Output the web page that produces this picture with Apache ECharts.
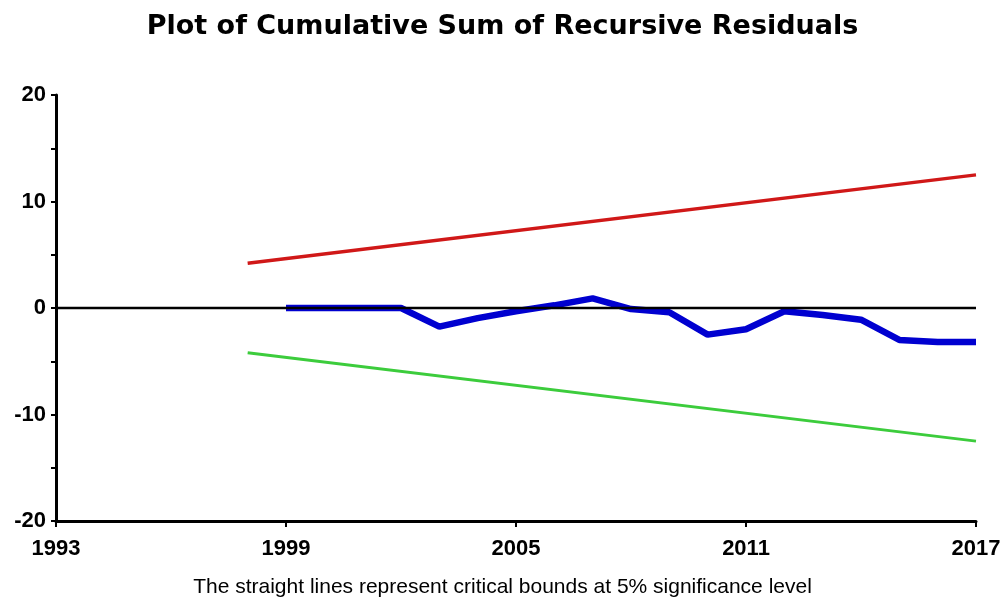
<!DOCTYPE html>
<html>
<head>
<meta charset="utf-8">
<script src="https://cdn.jsdelivr.net/npm/echarts@6/dist/echarts.min.js"></script>
<style>
  html, body { margin: 0; padding: 0; background: #fff; }
  #chart { width: 1005px; height: 605px; }
</style>
</head>
<body>
<div id="chart"></div>
<script>
// CUSUM values
const years = [1999, 2000, 2001, 2002, 2003, 2004, 2005, 2006, 2007, 2008,
               2009, 2010, 2011, 2012, 2013, 2014, 2015, 2016, 2017]
const cusum = [0, 0, 0, 0, -1.75, -0.95, -0.3, 0.25, 0.9, -0.1,
               -0.4, -2.5, -2.0, -0.3, -0.65, -1.1, -3.0, -3.2, -3.2]

// 5% critical bounds (straight lines, end points only)
const boundYears = [1998, 2017]
const upperBound = [4.2, 12.5]
const lowerBound = [-4.2, -12.5]

const zeroYears = [1993, 2017]
const zeroLine = [0, 0]

const xTicks = [1993, 1999, 2005, 2011, 2017]
const yLabels = [-20, -10, 0, 10, 20]

const pairs = (xs, ys) => xs.map((x, i) => [x, ys[i]])

const chart = echarts.init(document.getElementById('chart'))
const font = 'Liberation Sans, Arial, sans-serif'

chart.setOption({
  animation: false,
  backgroundColor: '#fff',
  title: [{
    text: 'Plot of Cumulative Sum of Recursive Residuals',
    left: 'center',
    top: 8,
    textStyle: { fontFamily: 'DejaVu Sans', fontSize: 27, fontWeight: 'bold', color: '#000' }
  }, {
    text: 'The straight lines represent critical bounds at 5% significance level',
    left: 'center',
    top: 572,
    textStyle: { fontFamily: font, fontSize: 21, fontWeight: 'normal', color: '#000' }
  }],
  grid: { left: 56, right: 29, top: 95, bottom: 84, containLabel: false },
  xAxis: {
    type: 'value',
    min: 1993,
    max: 2017,
    splitLine: { show: false },
    axisLine: { onZero: false, lineStyle: { color: '#000', width: 3 } },
    axisTick: { customValues: xTicks, length: 6, lineStyle: { color: '#000', width: 2 } },
    axisLabel: {
      customValues: xTicks,
      margin: 17,
      fontFamily: font, fontSize: 22, fontWeight: 'bold', color: '#000',
      formatter: v => String(v)
    }
  },
  yAxis: {
    type: 'value',
    min: -20,
    max: 20,
    interval: 5,
    splitLine: { show: false },
    axisLine: { show: true, onZero: false, lineStyle: { color: '#000', width: 3 } },
    axisTick: { show: true, length: 5, lineStyle: { color: '#000', width: 2 } },
    axisLabel: {
      customValues: yLabels,
      margin: 10,
      fontFamily: font, fontSize: 22, fontWeight: 'bold', color: '#000'
    }
  },
  series: [
    {
      name: 'upper', type: 'line', data: pairs(boundYears, upperBound),
      symbol: 'none', lineStyle: { color: '#d01818', width: 3.5 }, z: 2
    },
    {
      name: 'lower', type: 'line', data: pairs(boundYears, lowerBound),
      symbol: 'none', lineStyle: { color: '#3ccc3c', width: 3 }, z: 2
    },
    {
      name: 'CUSUM', type: 'line', data: pairs(years, cusum),
      symbol: 'none', lineStyle: { color: '#0000d0', width: 6.5 }, z: 3
    },
    {
      name: 'zero', type: 'line', data: pairs(zeroYears, zeroLine),
      symbol: 'none', lineStyle: { color: '#000', width: 2.5 }, z: 4
    }
  ]
})
</script>
</body>
</html>
